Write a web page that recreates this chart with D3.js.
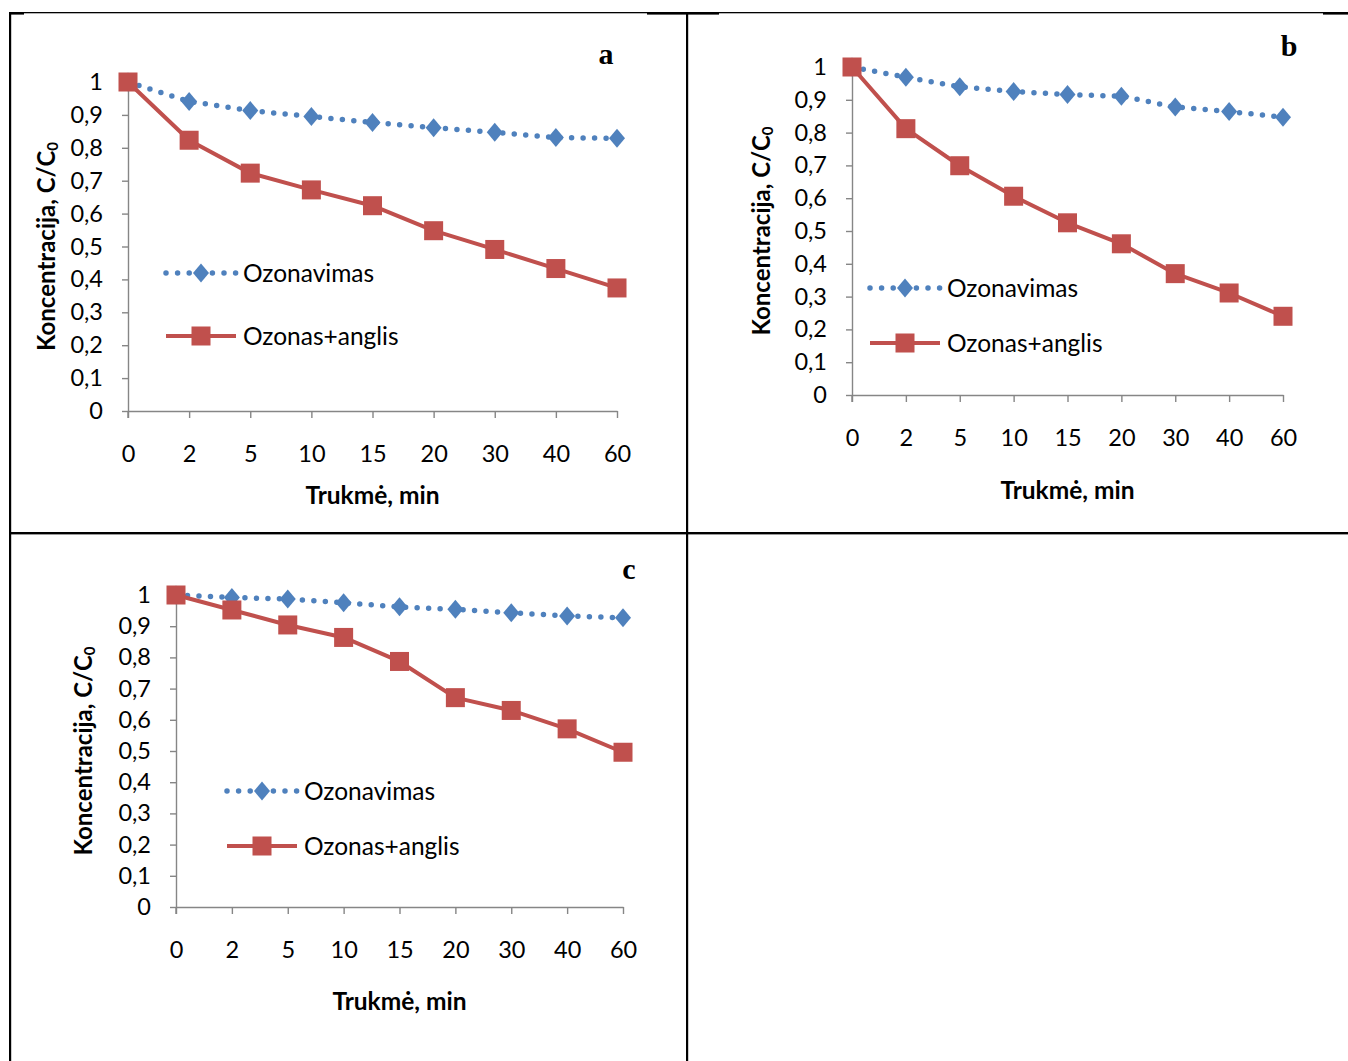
<!DOCTYPE html>
<html>
<head>
<meta charset="utf-8">
<script src="https://cdn.jsdelivr.net/npm/d3@7"></script>
<style>
  body { margin: 0; background: #fff; }
  svg { display: block; }
  text { font-family: Lato, "Open Sans", sans-serif; fill: #000; }
</style>
</head>
<body>
<svg id="chart" width="1348" height="1061"></svg>
<script>
// category labels on the x axis (minutes)
const times = ["0", "2", "5", "10", "15", "20", "30", "40", "60"];
const yTicks = [0, 0.1, 0.2, 0.3, 0.4, 0.5, 0.6, 0.7, 0.8, 0.9, 1];

const seriesNames = ["Ozonavimas", "Ozonas+anglis"];

// values, C/C0
const ozonA   = [1, 0.941, 0.913, 0.895, 0.877, 0.861, 0.847, 0.831, 0.829];
const anglisA = [1, 0.823, 0.723, 0.672, 0.624, 0.548, 0.491, 0.433, 0.374];
const ozonB   = [1, 0.969, 0.940, 0.925, 0.916, 0.911, 0.878, 0.864, 0.847];
const anglisB = [1, 0.812, 0.699, 0.606, 0.525, 0.461, 0.370, 0.311, 0.240];
const ozonC   = [1, 0.992, 0.987, 0.975, 0.962, 0.954, 0.943, 0.933, 0.927];
const anglisC = [1, 0.952, 0.904, 0.864, 0.787, 0.671, 0.630, 0.571, 0.496];

const blue = "#4F81BD";
const red = "#C0504D";
const axisColor = "#868686";

// where each chart sits on the page
const panels = [
    {label: "a", ozon: ozonA, anglis: anglisA, left: 128, right: 617, top: 82, bottom: 411,
     labelX: 606, labelY: 55, yTitleX: 46, xTitleY: 495, legendX: 166, legendY: [273, 336]},
    {label: "b", ozon: ozonB, anglis: anglisB, left: 852, right: 1283, top: 67, bottom: 395,
     labelX: 1289, labelY: 47, yTitleX: 761, xTitleY: 490, legendX: 870, legendY: [288, 343]},
    {label: "c", ozon: ozonC, anglis: anglisC, left: 176, right: 623, top: 595, bottom: 907,
     labelX: 629, labelY: 570, yTitleX: 83, xTitleY: 1001, legendX: 227, legendY: [791, 846]}
];

const svg = d3.select("#chart");

// table borders around the three cells
const border = svg.append("g").attr("fill", "#000");
border.append("rect").attr("x", 10).attr("y", 12).attr("width", 1338).attr("height", 1.3);
[[10, 14], [647, 72], [1323, 25]].forEach(s =>
    border.append("rect").attr("x", s[0]).attr("y", 12).attr("width", s[1]).attr("height", 2.6));
border.append("rect").attr("x", 9).attr("y", 12).attr("width", 2.2).attr("height", 1049);
border.append("rect").attr("x", 686).attr("y", 12).attr("width", 2.2).attr("height", 1049);
border.append("rect").attr("x", 9).attr("y", 532).attr("width", 1339).attr("height", 2.4);

const diamond = "M0,-9.5L8,0L0,9.5L-8,0Z";
const markerSize = 19;

panels.forEach(p => drawPanel(p));

function drawPanel(p) {
    const g = svg.append("g");

    const x = d3.scalePoint().domain(times).range([p.left, p.right]);
    const y = d3.scaleLinear().domain([0, 1]).range([p.bottom, p.top]);

    // axes
    const yAxis = g.append("g")
        .attr("transform", "translate(" + p.left + ",0)")
        .call(d3.axisLeft(y)
            .tickValues(yTicks)
            .tickSize(6)
            .tickSizeOuter(0)
            .tickPadding(19)
            .tickFormat(d => String(d).replace(".", ",")));
    const xAxis = g.append("g")
        .attr("transform", "translate(0," + p.bottom + ")")
        .call(d3.axisBottom(x).tickSize(7).tickSizeOuter(0).tickPadding(27));
    [xAxis, yAxis].forEach(a => {
        a.select(".domain").attr("stroke", axisColor).attr("stroke-width", 1.4);
        a.selectAll(".tick line").attr("stroke", axisColor).attr("stroke-width", 1.4);
        a.selectAll(".tick text")
            .style("font-family", "Lato, sans-serif")
            .style("font-size", "23.5px")
            .attr("fill", "#000");
    });
    // y axis runs down to the x tick length like in Excel
    g.append("line")
        .attr("x1", p.left).attr("x2", p.left)
        .attr("y1", p.bottom).attr("y2", p.bottom + 7)
        .attr("stroke", axisColor).attr("stroke-width", 1.4);

    // axis titles
    const yTitle = g.append("text")
        .attr("transform", "translate(" + p.yTitleX + "," + ((p.top + p.bottom) / 2) + ") rotate(-90)")
        .attr("text-anchor", "middle")
        .attr("dy", "0.36em")
        .style("font-weight", "bold")
        .style("font-size", "24px");
    yTitle.append("tspan").text("Koncentracija, C/C");
    yTitle.append("tspan").text("0").attr("baseline-shift", "-3px").style("font-size", "15px");

    g.append("text")
        .attr("x", (p.left + p.right) / 2)
        .attr("y", p.xTitleY)
        .attr("dy", "0.36em")
        .attr("text-anchor", "middle")
        .style("font-weight", "bold")
        .style("font-size", "24.5px")
        .text("Trukmė, min");

    // panel letter
    g.append("text")
        .attr("x", p.labelX)
        .attr("y", p.labelY)
        .attr("dy", "0.3em")
        .attr("text-anchor", "middle")
        .style("font-family", "'Liberation Serif', serif")
        .style("font-weight", "bold")
        .style("font-size", "30px")
        .text(p.label);

    const line = d3.line()
        .x((d, i) => x(times[i]))
        .y(d => y(d));

    // Ozonavimas: dotted blue with diamonds
    g.append("path")
        .datum(p.ozon)
        .attr("fill", "none")
        .attr("stroke", blue)
        .attr("stroke-width", 5.5)
        .attr("stroke-linecap", "round")
        .attr("stroke-dasharray", "0 11.5")
        .attr("d", line);
    g.selectAll(".dia")
        .data(p.ozon)
        .enter().append("path")
        .attr("class", "dia")
        .attr("d", diamond)
        .attr("fill", blue)
        .attr("transform", (d, i) => "translate(" + x(times[i]) + "," + y(d) + ")");

    // Ozonas+anglis: solid red with squares
    g.append("path")
        .datum(p.anglis)
        .attr("fill", "none")
        .attr("stroke", red)
        .attr("stroke-width", 4)
        .attr("stroke-linejoin", "round")
        .attr("d", line);
    g.selectAll(".sq")
        .data(p.anglis)
        .enter().append("rect")
        .attr("class", "sq")
        .attr("x", (d, i) => x(times[i]) - markerSize / 2)
        .attr("y", d => y(d) - markerSize / 2)
        .attr("width", markerSize)
        .attr("height", markerSize)
        .attr("fill", red);

    // legend
    const lg = g.append("g");
    const lx = p.legendX;
    lg.append("line")
        .attr("x1", lx).attr("x2", lx + 70)
        .attr("y1", p.legendY[0]).attr("y2", p.legendY[0])
        .attr("stroke", blue).attr("stroke-width", 5.5)
        .attr("stroke-linecap", "round")
        .attr("stroke-dasharray", "0 11.6");
    lg.append("path")
        .attr("d", diamond)
        .attr("fill", blue)
        .attr("transform", "translate(" + (lx + 35) + "," + p.legendY[0] + ")");
    lg.append("line")
        .attr("x1", lx).attr("x2", lx + 70)
        .attr("y1", p.legendY[1]).attr("y2", p.legendY[1])
        .attr("stroke", red).attr("stroke-width", 4);
    lg.append("rect")
        .attr("x", lx + 35 - markerSize / 2)
        .attr("y", p.legendY[1] - markerSize / 2)
        .attr("width", markerSize).attr("height", markerSize)
        .attr("fill", red);
    seriesNames.forEach((name, i) => {
        lg.append("text")
            .attr("x", lx + 77)
            .attr("y", p.legendY[i])
            .attr("dy", "0.36em")
            .style("font-size", "24.5px")
            .text(name);
    });
}
</script>
</body>
</html>
